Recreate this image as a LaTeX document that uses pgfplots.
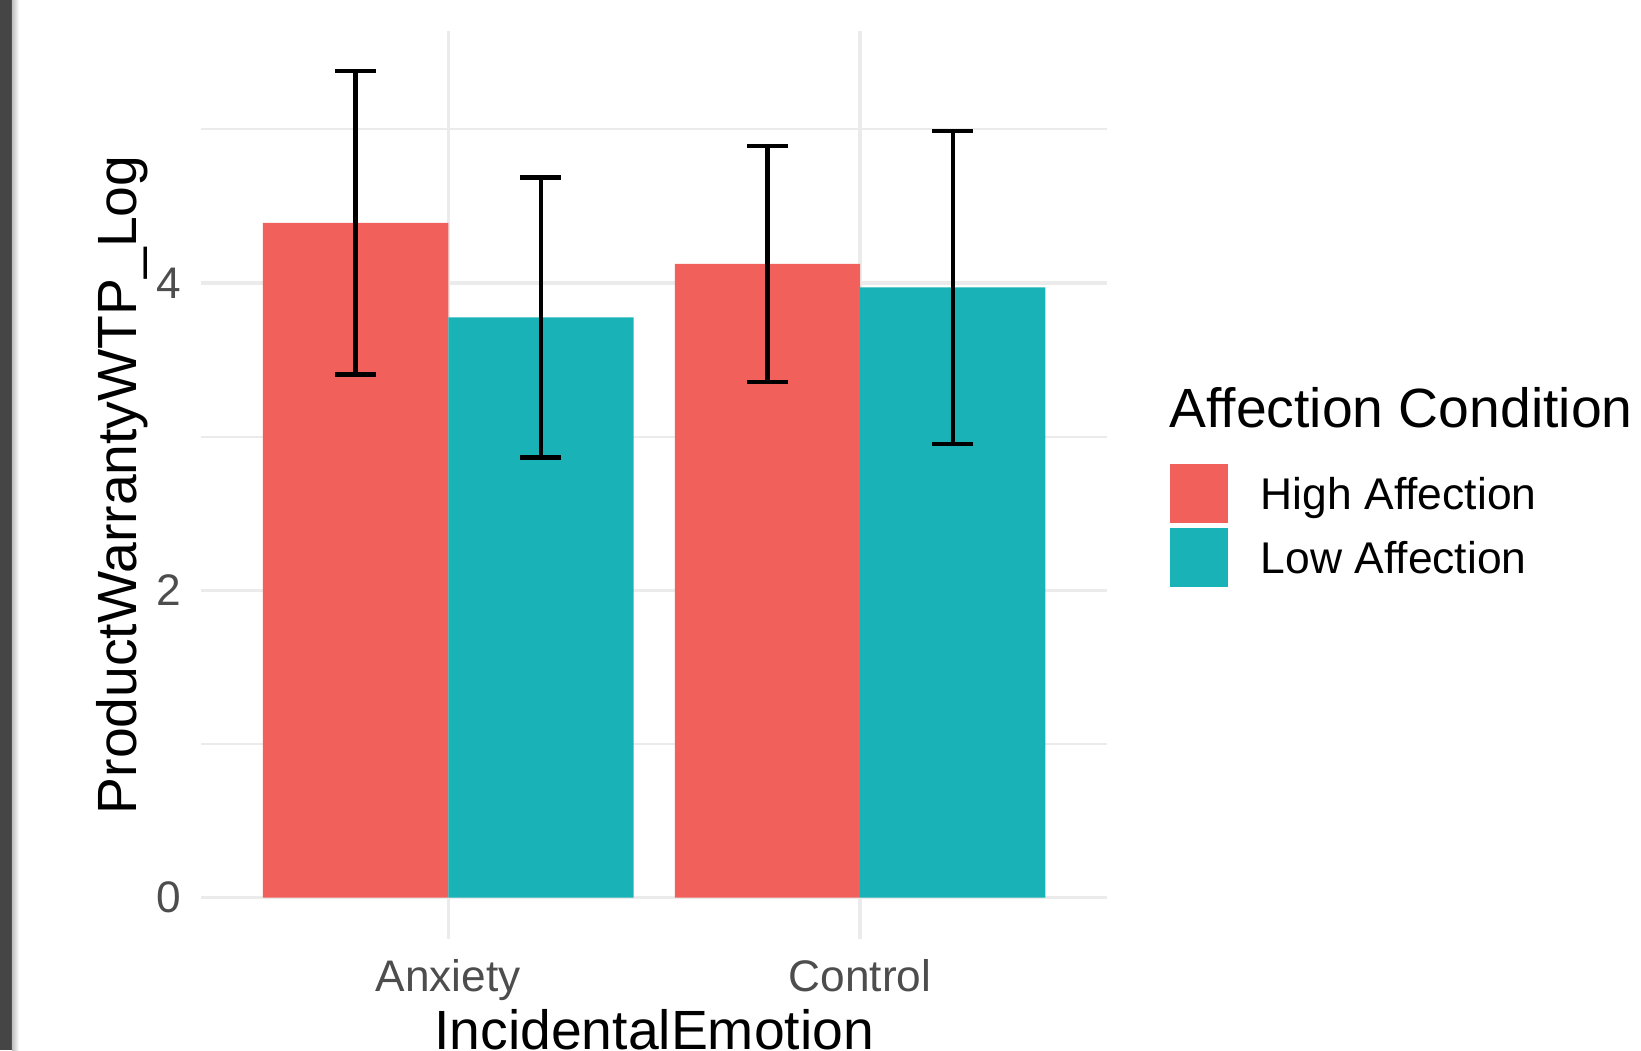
\documentclass[border=0pt]{standalone}
\usepackage{pgfplots}
\pgfplotsset{compat=1.18}
\usepackage{fontspec}
\setmainfont{Liberation Sans}
\definecolor{hired}{RGB}{242,96,91}
\definecolor{loteal}{RGB}{25,179,183}
\definecolor{gridc}{RGB}{235,235,235}
\definecolor{tickc}{RGB}{77,77,77}
\pgfplotsset{errstyle/.style={draw=none, mark=none, forget plot,
  error bars/.cd, y dir=both, y explicit,
  error bar style={line width=2.2pt, black},
  error mark options={rotate=90, line width=2.2pt, black, mark size=10.25pt}}}
\begin{document}
\begin{tikzpicture}
\begin{axis}[
  at={(0pt,0pt)}, anchor=south west,
  scale only axis, width=453pt, height=454.15pt,
  xmin=0.4, xmax=2.6, ymin=-0.269, ymax=5.642,
  clip=false,
  axis line style={draw=none},
  major tick length=0pt, minor tick length=0pt,
  xtick={1,2}, xticklabels={Anxiety,Control},
  ytick={0,2,4}, yticklabels={0,2,4},
  minor ytick={1,3,5},
  /pgf/number format/assume math mode=true,
  xmajorgrids, ymajorgrids, yminorgrids,
  major grid style={draw=gridc, line width=1.65pt},
  minor grid style={draw=gridc, line width=0.85pt},
  ticklabel style={font=\fontsize{22.1}{26}\selectfont, text=tickc, inner sep=0pt},
  xticklabel style={anchor=base, yshift=-26.35pt},
  yticklabel style={anchor=east, xshift=-9.8pt},
  xlabel={IncidentalEmotion}, ylabel={ProductWarrantyWTP\_Log},
  label style={font=\fontsize{27.65}{32}\selectfont, inner sep=0pt},
  xlabel style={at={(axis description cs:0.5,0)}, anchor=base, yshift=-55.3pt},
  ylabel style={at={(axis description cs:-0.0709,0.5)}, anchor=base},
  legend style={at={(axis description cs:1.0693,0.5237)}, anchor=north west,
    draw=none, fill=none, inner xsep=0pt, inner ysep=0pt,
    row sep=2.7pt, column sep=16.2pt,
    font=\fontsize{22.2}{26}\selectfont,
    nodes={inner sep=0pt, text depth=0pt}, cells={anchor=west}},
  legend image code/.code={\path[#1, draw=none] (0pt,-14.75pt) rectangle (29pt,14.75pt);},
]
\addplot[ybar, bar width=0.45, bar shift=-0.225, fill=hired, draw=none]
  coordinates {(1,4.391) (2,4.124)};
\addlegendentry{High Affection}
\addplot[ybar, bar width=0.45, bar shift=0.225, fill=loteal, draw=none]
  coordinates {(1,3.776) (2,3.971)};
\addlegendentry{Low Affection}
\addplot[errstyle] coordinates {(0.775,4.391) +- (0,0.987) (1.775,4.124) +- (0,0.768)};
\addplot[errstyle] coordinates {(1.225,3.776) +- (0,0.911) (2.225,3.971) +- (0,1.020)};
\node[anchor=base west, inner sep=0pt, font=\fontsize{27.65}{32}\selectfont]
  at (axis description cs:1.0682,0.5634) {Affection Condition};
\end{axis}
\fill[black!73] (-100.6pt,-55.5pt) rectangle (-94.6pt,469.5pt);
\shade[left color=black!25, right color=white] (-94.6pt,-55.5pt) rectangle (-91pt,469.5pt);
\pgfresetboundingbox
\path[use as bounding box] (-100.6pt,-55.5pt) rectangle (719.9pt,469.5pt);
\end{tikzpicture}
\end{document}
